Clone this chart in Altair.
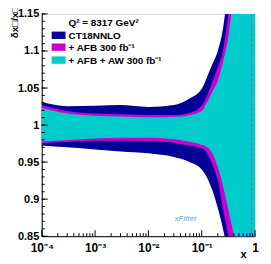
import altair as alt
import pandas as pd

# ---- data ----
x_vals = [1e-4, 3e-4, 1e-3, 3e-3, 1e-2, 3e-2, 0.056, 0.1, 0.126, 0.158, 0.2, 0.25, 0.316, 0.4, 0.6, 1.0]

ct18_hi = [1.031, 1.0255, 1.026, 1.027, 1.0245, 1.027, 1.035, 1.049, 1.065, 1.082, 1.100, 1.13, 1.19, 1.26, 1.40, 1.50]
ct18_lo = [0.9725, 0.970, 0.967, 0.9645, 0.962, 0.957, 0.951, 0.940, 0.929, 0.912, 0.888, 0.860, 0.82, 0.75, 0.60, 0.50]

afb_hi = [1.027, 1.019, 1.0155, 1.0145, 1.0135, 1.0135, 1.016, 1.026, 1.040, 1.058, 1.078, 1.100, 1.15, 1.21, 1.35, 1.45]
afb_lo = [0.9755, 0.9775, 0.979, 0.979, 0.9785, 0.976, 0.9725, 0.969, 0.962, 0.947, 0.925, 0.887, 0.850, 0.80, 0.65, 0.55]

aw_hi = [1.023, 1.0155, 1.0125, 1.0115, 1.0105, 1.011, 1.013, 1.019, 1.031, 1.045, 1.060, 1.085, 1.12, 1.18, 1.30, 1.40]
aw_lo = [0.978, 0.980, 0.982, 0.983, 0.983, 0.981, 0.978, 0.9735, 0.970, 0.962, 0.943, 0.918, 0.885, 0.850, 0.75, 0.65]

band_names = ["CT18NNLO", "+ AFB 300 fb\u207b\u00b9", "+ AFB + AW 300 fb\u207b\u00b9"]
band_colors = ["#000099", "#cc00cc", "#00cccc"]
band_hi = [ct18_hi, afb_hi, aw_hi]
band_lo = [ct18_lo, afb_lo, aw_lo]

header_text = "Q\u00b2 = 8317 GeV\u00b2"
y_title = "\u03b4x\u25a1/x\u25a1"
x_title = "x"

dashed_x = [0.853]

x_major = [1e-4, 1e-3, 1e-2, 1e-1, 1.0]
x_major_labels = ["10\u207b\u2074", "10\u207b\u00b3", "10\u207b\u00b2", "10\u207b\u00b9", "1"]
x_minor = [m * 10.0 ** e for e in range(-4, 0) for m in range(2, 10)]

y_major = [0.85, 0.9, 0.95, 1.0, 1.05, 1.1, 1.15]
y_major_labels = ["0.85", "0.9", "0.95", "1", "1.05", "1.1", "1.15"]
y_minor = [round(0.85 + 0.01 * i, 2) for i in range(31)]

# ---- chart ----
W, H = 215, 224
FONT = "Liberation Sans"
xscale = alt.Scale(type="log", domain=[1e-4, 1.0], nice=False)
yscale = alt.Scale(domain=[0.85, 1.15], nice=False, zero=False)

xexpr = ""
for v, lab in zip(x_major[:-1], x_major_labels[:-1]):
    xexpr += f"datum.value < {v * 3} ? '{lab}' : "
xexpr += f"'{x_major_labels[-1]}'"
yexpr = ""
for v, lab in zip(y_major[:-1], y_major_labels[:-1]):
    yexpr += f"datum.value < {v + 0.01} ? '{lab}' : "
yexpr += f"'{y_major_labels[-1]}'"

xaxis = alt.Axis(
    values=x_major, labelExpr=xexpr, ticks=False, grid=False,
    domainColor="black", domainWidth=1, labelFont=FONT, labelFontWeight="bold",
    labelFontSize=12, labelColor="black", labelPadding=6, labelFlush=False,
    title=x_title, titleFont=FONT, titleFontWeight="bold", titleFontSize=11,
    titleColor="black", titleX=206, titleY=21, titleAlign="right",
    titleBaseline="alphabetic", titleAnchor="end")
yaxis = alt.Axis(
    values=y_major, labelExpr=yexpr, ticks=False, grid=False,
    domainColor="black", domainWidth=1, labelFont=FONT, labelFontWeight="bold",
    labelFontSize=11, labelColor="black", labelPadding=3,
    title=y_title, titleFont=FONT, titleFontWeight="bold", titleFontSize=10,
    titleColor="black", titleAngle=270, titleX=-27, titleY=-8,
    titleAlign="right", titleBaseline="middle")

layers = []
for name, col, hi, lo in zip(band_names, band_colors, band_hi, band_lo):
    df = pd.DataFrame({"x": x_vals, "lo": lo, "hi": hi})
    layers.append(
        alt.Chart(df).mark_area(color=col, interpolate="monotone", clip=True, opacity=1)
        .encode(x=alt.X("x:Q", scale=xscale, axis=xaxis),
                y=alt.Y("lo:Q", scale=yscale, axis=yaxis), y2="hi:Q")
    )

# dashed line near x=1
layers.append(
    alt.Chart(pd.DataFrame({"x": dashed_x})).mark_rule(color="#7070dd", strokeDash=[3, 2], strokeWidth=1)
    .encode(x=alt.X("x:Q", scale=xscale, axis=xaxis))
)

# inward ticks
tick_specs = [
    (x_major, "x", 6), (x_minor, "x", 3), (y_major, "y", 6), (y_minor, "y", 3)
]
for vals, ax, ln in tick_specs:
    tdf = pd.DataFrame({"x": vals, "lo": vals})
    if ax == "x":
        enc = dict(x=alt.X("x:Q", scale=xscale, axis=xaxis), y=alt.value(H), y2=alt.value(H - ln))
    else:
        enc = dict(y=alt.Y("lo:Q", scale=yscale, axis=yaxis), x=alt.value(0), x2=alt.value(ln))
    layers.append(alt.Chart(tdf).mark_rule(color="black", strokeWidth=1).encode(**enc))

# legend
leg_y = [21.5, 33.5, 46.5]
for name, col, yc in zip(band_names, band_colors, leg_y):
    layers.append(
        alt.Chart(pd.DataFrame({"n": [name]})).mark_rect(color=col)
        .encode(x=alt.value(10), x2=alt.value(24), y=alt.value(yc - 3.7), y2=alt.value(yc + 3.7))
    )
    layers.append(
        alt.Chart(pd.DataFrame({"n": [name]})).mark_text(
            align="left", baseline="middle", font=FONT, fontWeight="bold", fontSize=10, color="black")
        .encode(text="n:N", x=alt.value(27), y=alt.value(yc + 0.5))
    )
layers.append(
    alt.Chart(pd.DataFrame({"n": [header_text]})).mark_text(
        align="left", baseline="middle", font=FONT, fontWeight="bold", fontSize=10, color="black")
    .encode(text="n:N", x=alt.value(27), y=alt.value(9.5))
)
layers.append(
    alt.Chart(pd.DataFrame({"n": ["xFitter"]})).mark_text(
        align="center", baseline="middle", font=FONT, fontStyle="italic", fontSize=8, color="#5aa8e0")
    .encode(text="n:N", x=alt.value(145), y=alt.value(207))
)

chart = alt.layer(*layers).properties(
    width=W, height=H,
    autosize=alt.AutoSizeParams(type="none"),
    padding={"left": 34, "top": 5, "right": 8, "bottom": 25},
).configure_view(stroke="black", strokeWidth=1).configure(background="white")

chart.save("out.html", embed_options={"renderer": "svg", "actions": False})
